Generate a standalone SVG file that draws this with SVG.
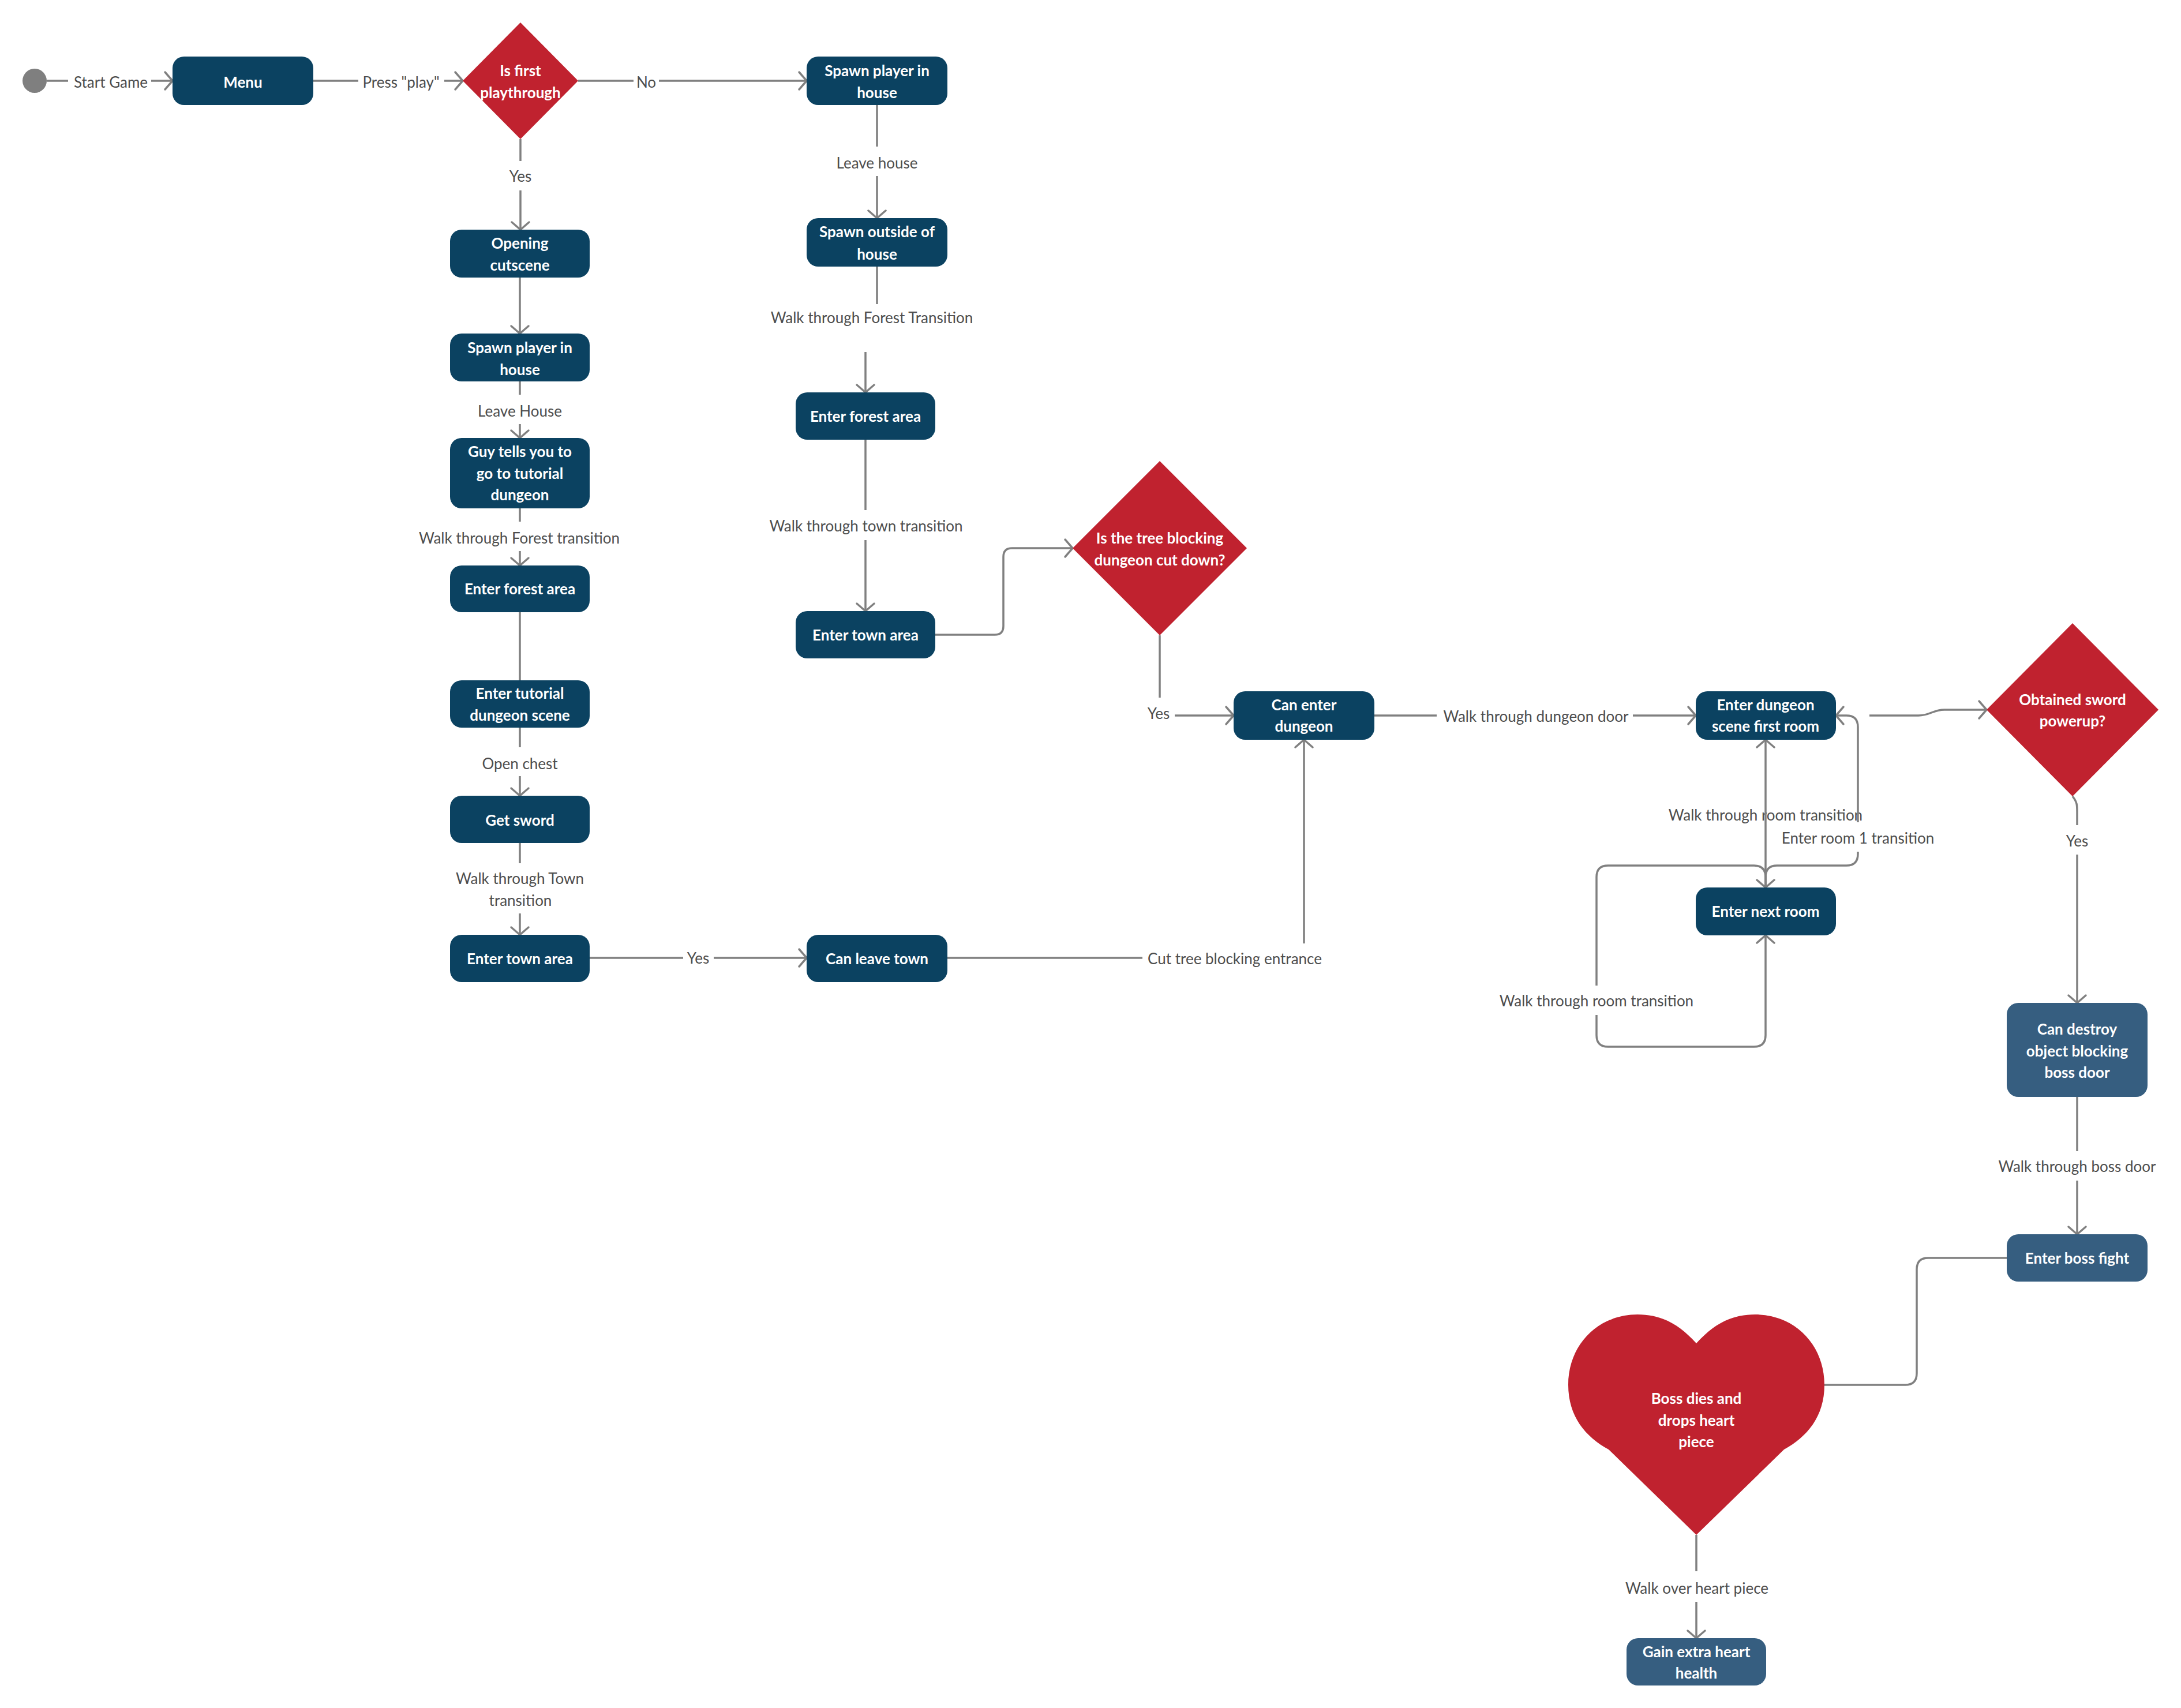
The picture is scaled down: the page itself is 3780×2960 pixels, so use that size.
<svg xmlns="http://www.w3.org/2000/svg" width="3780" height="2960" viewBox="0 0 3780 2960">
<style>
.dark{fill:#0B4261}
.light{fill:#365E80}
.red{fill:#C0222F}
.nt{font-family:Lato,"Liberation Sans",sans-serif;font-size:26px;font-weight:700;fill:#FFFFFF;text-anchor:middle}
.lbl{font-family:Lato,"Liberation Sans",sans-serif;font-size:26px;fill:#4D4D4D;text-anchor:middle}
.conn{fill:none;stroke:#808080;stroke-width:3.5;stroke-linejoin:round}
.arr{marker-end:url(#arr)}
</style>
<defs>
<marker id="arr" markerUnits="userSpaceOnUse" markerWidth="40" markerHeight="40" viewBox="-20 -20 40 40" refX="0" refY="0" orient="auto-start-reverse">
<path d="M-13,-15 L0,0 L-13,15" fill="none" stroke="#808080" stroke-width="3.5" stroke-linecap="round" stroke-linejoin="round"/>
</marker>
</defs>
<rect width="3780" height="2960" fill="#FFFFFF"/>

<g id="connectors">
<path class="conn arr" d="M81,140 L118,140 M262,140 L299,140"/>
<path class="conn arr" d="M543,140 L621,140 M770,140 L802,140"/>
<path class="conn arr" d="M1002,140 L1098,140 M1142,140 L1398,140"/>
<path class="conn arr" d="M902,241 L902,279 M902,330 L902,398"/>
<path class="conn arr" d="M901,481 L901,578"/>
<path class="conn arr" d="M901,661 L901,684 M901,735 L901,759"/>
<path class="conn arr" d="M901,881 L901,904 M901,955 L901,980"/>
<path class="conn" d="M901,1061 L901,1179"/>
<path class="conn arr" d="M901,1261 L901,1295 M901,1345 L901,1379"/>
<path class="conn arr" d="M901,1461 L901,1496 M901,1583 L901,1620"/>
<path class="conn arr" d="M1022,1660 L1184,1660 M1237,1660 L1398,1660"/>
<path class="conn arr" d="M1642,1660 L1980,1660 M2260,1635 L2260,1282"/>
<path class="conn arr" d="M1520,182 L1520,254 M1520,305 L1520,378"/>
<path class="conn arr" d="M1520,462 L1520,527 M1500,610 L1500,680"/>
<path class="conn arr" d="M1500,762 L1500,884 M1500,936 L1500,1059"/>
<path class="conn arr" d="M1621,1100 L1724,1100 Q1739,1100 1739,1085 L1739,965 Q1739,950 1754,950 L1859,950"/>
<path class="conn arr" d="M2010,1101 L2010,1209 M2036,1240 L2138,1240"/>
<path class="conn arr" d="M2382,1240 L2490,1240 M2830,1240 L2939,1240"/>
<text class="lbl" x="3060" y="1422">Walk through room transition</text>
<path class="conn arr" d="M3060,1282 L3060,1538" marker-start="url(#arr)"/>
<path class="conn arr" d="M3060,1538 L3060,1520 Q3060,1500 3080,1500 L3200,1500 Q3220,1500 3220,1480 L3220,1476 M3220,1425 L3220,1260 Q3220,1240 3200,1240 L3182,1240"/>
<path class="conn arr" d="M3060,1538 L3060,1520 Q3060,1500 3040,1500 L2787,1500 Q2767,1500 2767,1520 L2767,1708 M2767,1759 L2767,1794 Q2767,1814 2787,1814 L3040,1814 Q3060,1814 3060,1794 L3060,1621"/>
<path class="conn arr" d="M3240,1240 L3325,1240 C3345,1240 3350,1230 3370,1230 L3443,1230"/>
<path class="conn arr" d="M3592,1380 C3600,1390 3600,1395 3600,1408 L3600,1430 M3600,1481 L3600,1738"/>
<path class="conn arr" d="M3600,1901 L3600,1995 M3600,2046 L3600,2139"/>
<path class="conn" d="M3478,2180 L3342,2180 Q3322,2180 3322,2200 L3322,2380 Q3322,2400 3302,2400 L3160,2400"/>
<path class="conn arr" d="M2940,2660 L2940,2723 M2940,2776 L2940,2839"/>

<text class="lbl" x="192" y="152">Start Game</text>
<text class="lbl" x="695" y="152">Press "play"</text>
<text class="lbl" x="1120" y="152">No</text>
<text class="lbl" x="902" y="315">Yes</text>
<text class="lbl" x="901" y="722">Leave House</text>
<text class="lbl" x="900" y="942">Walk through Forest transition</text>
<text class="lbl" x="901" y="1333">Open chest</text>
<text class="lbl" x="901" y="1532">Walk through Town</text>
<text class="lbl" x="902" y="1570">transition</text>
<text class="lbl" x="1210" y="1670">Yes</text>
<text class="lbl" x="2140" y="1671">Cut tree blocking entrance</text>
<text class="lbl" x="1520" y="292">Leave house</text>
<text class="lbl" x="1511" y="560">Walk through Forest Transition</text>
<text class="lbl" x="1501" y="921">Walk through town transition</text>
<text class="lbl" x="2008" y="1246">Yes</text>
<text class="lbl" x="2662" y="1251">Walk through dungeon door</text>
<text class="lbl" x="3220" y="1462">Enter room 1 transition</text>
<text class="lbl" x="2767" y="1744">Walk through room transition</text>
<text class="lbl" x="3600" y="1467">Yes</text>
<text class="lbl" x="3600" y="2031">Walk through boss door</text>
<text class="lbl" x="2941" y="2762">Walk over heart piece</text>
</g>

<g id="start"><circle cx="60" cy="140" r="21" fill="#7F7F7F"/></g>

<g id="menu"><rect class="dark" x="299" y="98" width="244" height="84" rx="20"/><text class="nt" x="421" y="152">Menu</text></g>

<g id="first-playthrough"><polygon class="red" points="902,39 1002,140 902,241 802,140"/><text class="nt" x="902" y="132">Is first</text><text class="nt" x="902" y="170">playthrough</text></g>

<g id="opening-cutscene"><rect class="dark" x="780" y="398" width="242" height="83" rx="20"/><text class="nt" x="901" y="431">Opening</text><text class="nt" x="901" y="469">cutscene</text></g>

<g id="spawn-house-1"><rect class="dark" x="780" y="578" width="242" height="83" rx="20"/><text class="nt" x="901" y="612">Spawn player in</text><text class="nt" x="901" y="650">house</text></g>

<g id="guy-tells"><rect class="dark" x="780" y="759" width="242" height="122" rx="20"/><text class="nt" x="901" y="792">Guy tells you to</text><text class="nt" x="901" y="829.5">go to tutorial</text><text class="nt" x="901" y="867">dungeon</text></g>

<g id="forest-1"><rect class="dark" x="780" y="980" width="242" height="81" rx="20"/><text class="nt" x="901" y="1030">Enter forest area</text></g>

<g id="tutorial-dungeon"><rect class="dark" x="780" y="1179" width="242" height="82" rx="20"/><text class="nt" x="901" y="1211">Enter tutorial</text><text class="nt" x="901" y="1249">dungeon scene</text></g>

<g id="get-sword"><rect class="dark" x="780" y="1379" width="242" height="82" rx="20"/><text class="nt" x="901" y="1431">Get sword</text></g>

<g id="town-1"><rect class="dark" x="780" y="1620" width="242" height="82" rx="20"/><text class="nt" x="901" y="1671">Enter town area</text></g>

<g id="spawn-house-2"><rect class="dark" x="1398" y="98" width="244" height="84" rx="20"/><text class="nt" x="1520" y="132">Spawn player in</text><text class="nt" x="1520" y="170">house</text></g>

<g id="spawn-outside"><rect class="dark" x="1398" y="378" width="244" height="84" rx="20"/><text class="nt" x="1520" y="411">Spawn outside of</text><text class="nt" x="1520" y="450">house</text></g>

<g id="forest-2"><rect class="dark" x="1379" y="680" width="242" height="82" rx="20"/><text class="nt" x="1500" y="731">Enter forest area</text></g>

<g id="town-2"><rect class="dark" x="1379" y="1059" width="242" height="82" rx="20"/><text class="nt" x="1500" y="1110">Enter town area</text></g>

<g id="leave-town"><rect class="dark" x="1398" y="1620" width="244" height="82" rx="20"/><text class="nt" x="1520" y="1671">Can leave town</text></g>

<g id="tree-cut"><polygon class="red" points="2010,799 2161,950 2010,1101 1859,950"/><text class="nt" x="2010" y="942">Is the tree blocking</text><text class="nt" x="2010" y="980">dungeon cut down?</text></g>

<g id="can-enter-dungeon"><rect class="dark" x="2138" y="1198" width="244" height="84" rx="20"/><text class="nt" x="2260" y="1231">Can enter</text><text class="nt" x="2260" y="1268">dungeon</text></g>

<g id="first-room"><rect class="dark" x="2939" y="1198" width="243" height="84" rx="20"/><text class="nt" x="3060" y="1231">Enter dungeon</text><text class="nt" x="3060" y="1268">scene first room</text></g>

<g id="next-room"><rect class="dark" x="2939" y="1538" width="243" height="83" rx="20"/><text class="nt" x="3060" y="1589">Enter next room</text></g>

<g id="sword-powerup"><polygon class="red" points="3592,1080 3741,1230 3592,1380 3443,1230"/><text class="nt" x="3592" y="1222">Obtained sword</text><text class="nt" x="3592" y="1259">powerup?</text></g>

<g id="can-destroy"><rect class="light" x="3478" y="1738" width="244" height="163" rx="20"/><text class="nt" x="3600" y="1793">Can destroy</text><text class="nt" x="3600" y="1830.5">object blocking</text><text class="nt" x="3600" y="1868">boss door</text></g>

<g id="boss-fight"><rect class="light" x="3478" y="2139" width="244" height="82" rx="20"/><text class="nt" x="3600" y="2190">Enter boss fight</text></g>

<g id="heart"><path class="red" d="M2940,2328 C2910,2295 2880,2278 2838,2278 C2770,2278 2718,2330 2718,2400 C2718,2455 2748,2490 2788,2512 L2940,2660 L3092,2512 C3132,2490 3162,2455 3162,2400 C3162,2330 3110,2278 3042,2278 C3000,2278 2970,2295 2940,2328 Z"/><text class="nt" x="2940" y="2433">Boss dies and</text><text class="nt" x="2940" y="2470.5">drops heart</text><text class="nt" x="2940" y="2508">piece</text></g>

<g id="gain-heart"><rect class="light" x="2819" y="2839" width="242" height="82" rx="20"/><text class="nt" x="2940" y="2872">Gain extra heart</text><text class="nt" x="2940" y="2909">health</text></g>
</svg>
